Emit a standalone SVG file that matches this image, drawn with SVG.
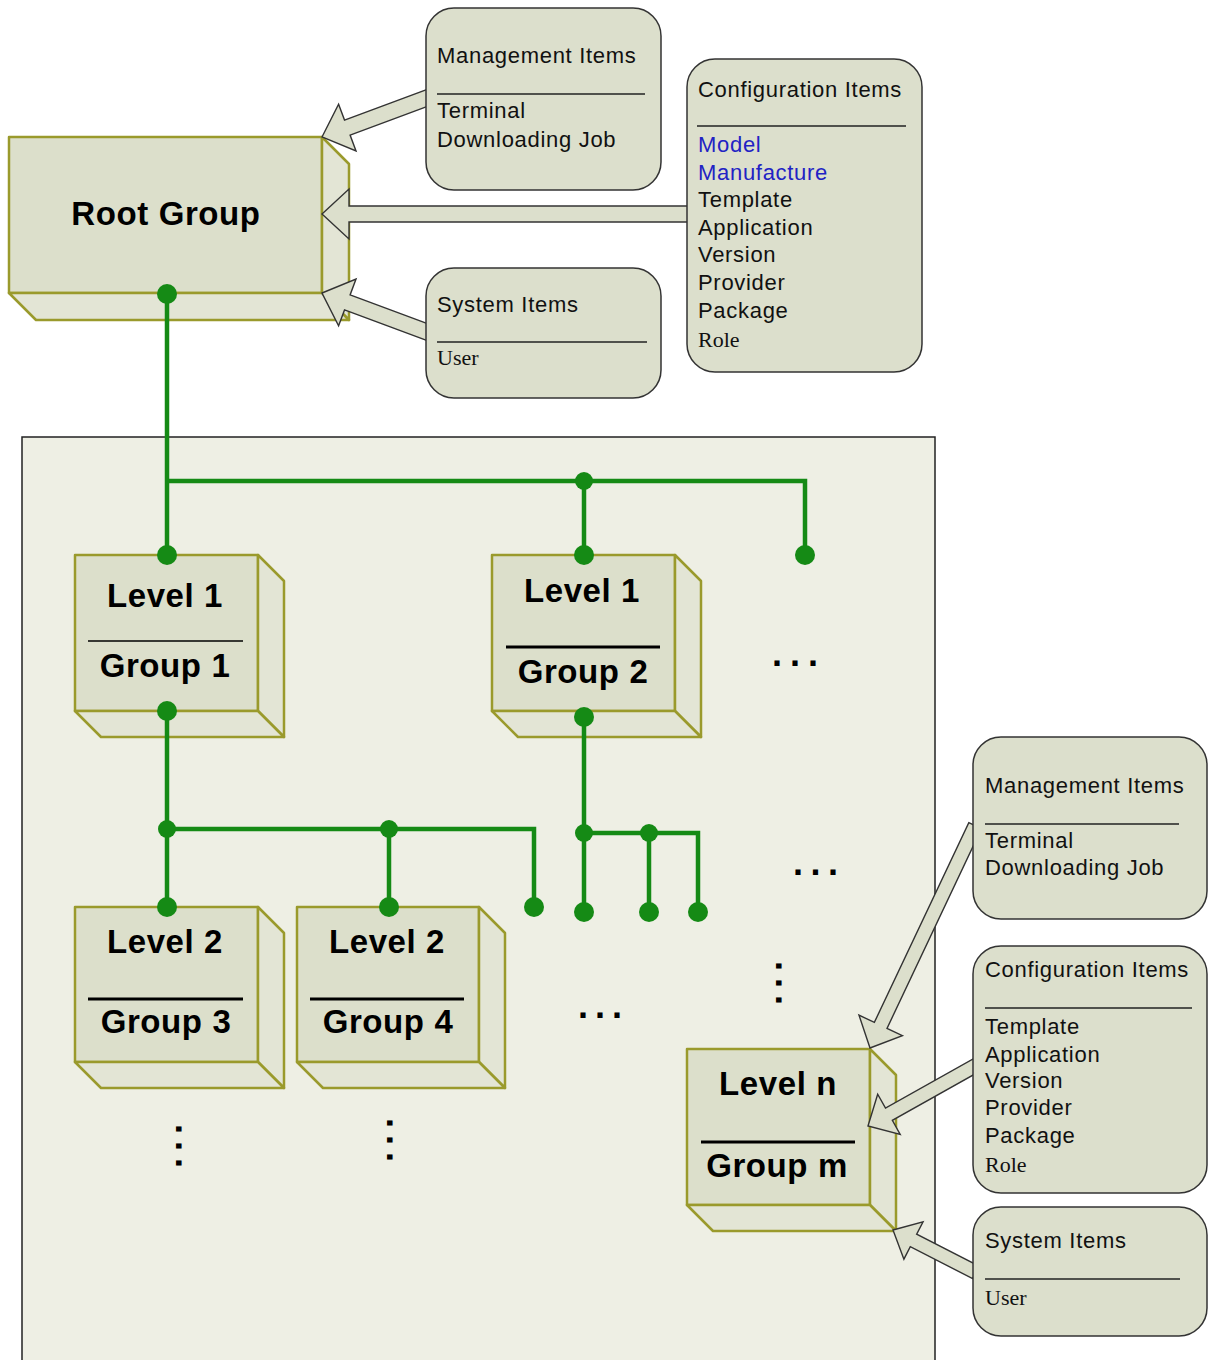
<svg xmlns="http://www.w3.org/2000/svg" width="1208" height="1360" viewBox="0 0 1208 1360">
<style>
.front{fill:#dcdfcb;stroke:#9a9a2c;stroke-width:2.5;stroke-linejoin:round}
.side{fill:#e3e5d5;stroke:#9a9a2c;stroke-width:2.5;stroke-linejoin:round}
.gt{font-family:"Liberation Sans",Arial,sans-serif;font-weight:bold;font-size:33px;letter-spacing:0.6px;fill:#000;text-anchor:middle}
.div1{stroke:#000;stroke-width:1.5}
.div2{stroke:#000;stroke-width:3}
.item{fill:#dcdfcc;stroke:#333;stroke-width:1.5}
.it{font-family:"Liberation Sans",Arial,sans-serif;font-size:22px;letter-spacing:0.7px;fill:#111}
.ser{font-family:"Liberation Serif","Times New Roman",serif;font-size:22px;fill:#111}
.blue{fill:#2222c4}
.idiv{stroke:#222;stroke-width:1.5}
.wire{fill:none;stroke:#158a15;stroke-width:4.5;stroke-linejoin:miter}
.dot{fill:#158a15}
.arr{fill:#dcdfcc;stroke:#333;stroke-width:1.4;stroke-linejoin:miter}
.dots{font-family:"Liberation Sans",Arial,sans-serif;font-weight:bold;font-size:36px;letter-spacing:8px;fill:#000}
</style>
<rect x="0" y="0" width="1208" height="1360" fill="#ffffff"/>
<rect id="area" x="22" y="437" width="913" height="940" fill="#eeefe4" stroke="#222" stroke-width="1.5"/>

<g id="root-group">
<rect class="front" x="9" y="137" width="313" height="156"/>
<polygon class="side" points="322,137 349,164 349,320 322,293"/>
<polygon class="side" points="9,293 322,293 349,320 36,320"/>
<text class="gt" x="166" y="225">Root Group</text>
</g>

<g id="level1-group1">
<rect class="front" x="75" y="555" width="183" height="156"/>
<polygon class="side" points="258,555 284,581 284,737 258,711"/>
<polygon class="side" points="75,711 258,711 284,737 101,737"/>
<text class="gt" x="165" y="607">Level 1</text>
<line class="div1" x1="88" y1="641" x2="243" y2="641"/>
<text class="gt" x="165" y="677">Group 1</text>
</g>

<g id="level1-group2">
<rect class="front" x="492" y="555" width="183" height="156"/>
<polygon class="side" points="675,555 701,581 701,737 675,711"/>
<polygon class="side" points="492,711 675,711 701,737 518,737"/>
<text class="gt" x="582" y="602">Level 1</text>
<line class="div2" x1="506" y1="647" x2="660" y2="647"/>
<text class="gt" x="583" y="683">Group 2</text>
</g>

<g id="level2-group3">
<rect class="front" x="75" y="907" width="183" height="155"/>
<polygon class="side" points="258,907 284,933 284,1088 258,1062"/>
<polygon class="side" points="75,1062 258,1062 284,1088 101,1088"/>
<text class="gt" x="165" y="953">Level 2</text>
<line class="div2" x1="88" y1="999" x2="243" y2="999"/>
<text class="gt" x="166" y="1033">Group 3</text>
</g>

<g id="level2-group4">
<rect class="front" x="297" y="907" width="182" height="155"/>
<polygon class="side" points="479,907 505,933 505,1088 479,1062"/>
<polygon class="side" points="297,1062 479,1062 505,1088 323,1088"/>
<text class="gt" x="387" y="953">Level 2</text>
<line class="div2" x1="310" y1="999" x2="464" y2="999"/>
<text class="gt" x="388" y="1033">Group 4</text>
</g>

<g id="leveln-groupm">
<rect class="front" x="687" y="1049" width="183" height="156"/>
<polygon class="side" points="870,1049 896,1075 896,1231 870,1205"/>
<polygon class="side" points="687,1205 870,1205 896,1231 713,1231"/>
<text class="gt" x="778" y="1095">Level n</text>
<line class="div2" x1="701" y1="1142" x2="855" y2="1142"/>
<text class="gt" x="777" y="1177">Group m</text>
</g>

<g id="connectors">
<path class="wire" d="M167,294 V555"/>
<path class="wire" d="M167,481 H805 V555"/>
<path class="wire" d="M584,481 V555"/>
<path class="wire" d="M167,711 V907"/>
<path class="wire" d="M167,829 H534 V907"/>
<path class="wire" d="M389,829 V907"/>
<path class="wire" d="M584,717 V912"/>
<path class="wire" d="M584,833 H698 V912"/>
<path class="wire" d="M649,833 V912"/>
<circle class="dot" cx="167" cy="294" r="10"/>
<circle class="dot" cx="167" cy="555" r="10"/>
<circle class="dot" cx="805" cy="555" r="10"/>
<circle class="dot" cx="584" cy="481" r="9"/>
<circle class="dot" cx="584" cy="555" r="10"/>
<circle class="dot" cx="167" cy="711" r="10"/>
<circle class="dot" cx="167" cy="907" r="10"/>
<circle class="dot" cx="167" cy="829" r="9"/>
<circle class="dot" cx="389" cy="829" r="9"/>
<circle class="dot" cx="389" cy="907" r="10"/>
<circle class="dot" cx="534" cy="907" r="10"/>
<circle class="dot" cx="584" cy="717" r="10"/>
<circle class="dot" cx="584" cy="833" r="9"/>
<circle class="dot" cx="649" cy="833" r="9"/>
<circle class="dot" cx="584" cy="912" r="10"/>
<circle class="dot" cx="649" cy="912" r="10"/>
<circle class="dot" cx="698" cy="912" r="10"/>
<polygon class="arr" transform="translate(322,137) rotate(-20.4)" points="0,0 27,-25 27,-8 116,-8 116,8 27,8 27,25"/>
<polygon class="arr" transform="translate(322,214)" points="0,0 27,-25 27,-8 368,-8 368,8 27,8 27,25"/>
<polygon class="arr" transform="translate(322,293) rotate(20.4)" points="0,0 27,-25 27,-8 116,-8 116,8 27,8 27,25"/>
<polygon class="arr" transform="translate(870,1048) rotate(-64.7)" points="0,0 25,-24 25,-7 246,-7 246,7 25,7 25,24"/>
<polygon class="arr" transform="translate(868,1126) rotate(-29.3)" points="0,0 24,-23 24,-7 125,-7 125,7 24,7 24,23"/>
<polygon class="arr" transform="translate(893,1230) rotate(27.1)" points="0,0 23,-21 23,-7 93,-7 93,7 23,7 23,21"/>
</g>

<g id="mgmt-top">
<rect class="item" x="426" y="8" width="235" height="182" rx="28"/>
<text class="it" x="437" y="63">Management Items</text>
<line class="idiv" x1="437" y1="94" x2="645" y2="94"/>
<text class="it" x="437" y="118">Terminal</text>
<text class="it" x="437" y="147">Downloading Job</text>
</g>

<g id="config-top">
<rect class="item" x="687" y="59" width="235" height="313" rx="28"/>
<text class="it" x="698" y="97">Configuration Items</text>
<line class="idiv" x1="697" y1="126" x2="906" y2="126"/>
<text class="it blue" x="698" y="152">Model</text>
<text class="it blue" x="698" y="180">Manufacture</text>
<text class="it" x="698" y="207">Template</text>
<text class="it" x="698" y="235">Application</text>
<text class="it" x="698" y="262">Version</text>
<text class="it" x="698" y="290">Provider</text>
<text class="it" x="698" y="318">Package</text>
<text class="ser" x="698" y="347">Role</text>
</g>

<g id="system-top">
<rect class="item" x="426" y="268" width="235" height="130" rx="28"/>
<text class="it" x="437" y="312">System Items</text>
<line class="idiv" x1="437" y1="342" x2="647" y2="342"/>
<text class="ser" x="437" y="365">User</text>
</g>

<g id="mgmt-right">
<rect class="item" x="973" y="737" width="234" height="182" rx="28"/>
<text class="it" x="985" y="793">Management Items</text>
<line class="idiv" x1="985" y1="824" x2="1179" y2="824"/>
<text class="it" x="985" y="848">Terminal</text>
<text class="it" x="985" y="875">Downloading Job</text>
</g>

<g id="config-right">
<rect class="item" x="973" y="946" width="234" height="247" rx="28"/>
<text class="it" x="985" y="977">Configuration Items</text>
<line class="idiv" x1="985" y1="1008" x2="1192" y2="1008"/>
<text class="it" x="985" y="1034">Template</text>
<text class="it" x="985" y="1062">Application</text>
<text class="it" x="985" y="1088">Version</text>
<text class="it" x="985" y="1115">Provider</text>
<text class="it" x="985" y="1143">Package</text>
<text class="ser" x="985" y="1172">Role</text>
</g>

<g id="system-right">
<rect class="item" x="973" y="1207" width="234" height="129" rx="28"/>
<text class="it" x="985" y="1248">System Items</text>
<line class="idiv" x1="985" y1="1279" x2="1180" y2="1279"/>
<text class="ser" x="985" y="1305">User</text>
</g>

<g id="ellipses">
<text class="dots" x="772" y="665.5">...</text>
<text class="dots" x="793" y="874.5" style="letter-spacing:7.5px">...</text>
<text class="dots" x="578" y="1017.5" style="letter-spacing:7px">...</text>
<text class="dots" transform="translate(775.5,961) rotate(90)" style="letter-spacing:7px">...</text>
<text class="dots" transform="translate(175.5,1124) rotate(90)" style="letter-spacing:7px">...</text>
<text class="dots" transform="translate(386.5,1118) rotate(90)" style="letter-spacing:7px">...</text>
</g>
</svg>
